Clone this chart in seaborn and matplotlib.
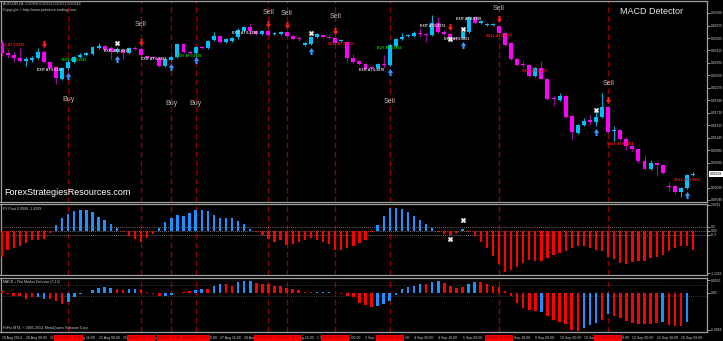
import numpy as np
import pandas as pd
import matplotlib
matplotlib.use("Agg")
import matplotlib.pyplot as plt
from matplotlib.path import Path
import seaborn as sns

# ------------------------------------------------------------------ data
opens = [0.9328, 0.9306, 0.9301, 0.9294, 0.9288, 0.9290, 0.9294, 0.9308, 0.9285, 0.9274,
         0.9247, 0.9272, 0.9285, 0.9297, 0.9301, 0.9304, 0.9317, 0.9322, 0.9317, 0.9308,
         0.9313, 0.9306, 0.9317, 0.9315, 0.9299, 0.9297, 0.9294, 0.9276, 0.9290, 0.9297,
         0.9326, 0.9308, 0.9306, 0.9319, 0.9317, 0.9335, 0.9344, 0.9331, 0.9333, 0.9342,
         0.9355, 0.9364, 0.9355, 0.9349, 0.9355, 0.9349, 0.9349, 0.9353, 0.9344, 0.9340,
         0.9324, 0.9326, 0.9342, 0.9346, 0.9342, 0.9340, 0.9333, 0.9331, 0.9294, 0.9288,
         0.9281, 0.9274, 0.9272, 0.9281, 0.9279, 0.9322, 0.9337, 0.9344, 0.9344, 0.9351,
         0.9349, 0.9346, 0.9373, 0.9353, 0.9349, 0.9340, 0.9340, 0.9353, 0.9387, 0.9373,
         0.9369, 0.9369, 0.9367, 0.9351, 0.9328, 0.9292, 0.9281, 0.9279, 0.9254, 0.9272,
         0.9247, 0.9204, 0.9200, 0.9209, 0.9164, 0.9125, 0.9143, 0.9155, 0.9150, 0.9161,
         0.9184, 0.9130, 0.9132, 0.9112, 0.9096, 0.9089, 0.9062, 0.9044, 0.9057, 0.9053,
         0.9006, 0.9006, 0.8992, 0.9001, 0.9030]
highs = [0.9335, 0.9313, 0.9308, 0.9317, 0.9297, 0.9299, 0.9317, 0.9313, 0.9288, 0.9276,
         0.9274, 0.9290, 0.9299, 0.9306, 0.9308, 0.9322, 0.9328, 0.9324, 0.9322, 0.9319,
         0.9317, 0.9319, 0.9322, 0.9317, 0.9301, 0.9299, 0.9297, 0.9294, 0.9299, 0.9328,
         0.9328, 0.9310, 0.9322, 0.9322, 0.9335, 0.9353, 0.9346, 0.9340, 0.9342, 0.9362,
         0.9367, 0.9373, 0.9358, 0.9358, 0.9358, 0.9353, 0.9355, 0.9355, 0.9346, 0.9344,
         0.9331, 0.9344, 0.9351, 0.9349, 0.9346, 0.9342, 0.9337, 0.9333, 0.9304, 0.9290,
         0.9283, 0.9276, 0.9283, 0.9301, 0.9326, 0.9340, 0.9351, 0.9349, 0.9355, 0.9362,
         0.9351, 0.9392, 0.9387, 0.9358, 0.9351, 0.9342, 0.9355, 0.9389, 0.9389, 0.9380,
         0.9373, 0.9373, 0.9369, 0.9353, 0.9331, 0.9294, 0.9288, 0.9281, 0.9274, 0.9288,
         0.9249, 0.9209, 0.9215, 0.9211, 0.9166, 0.9146, 0.9159, 0.9166, 0.9177, 0.9215,
         0.9186, 0.9141, 0.9134, 0.9116, 0.9098, 0.9091, 0.9075, 0.9065, 0.9060, 0.9055,
         0.9015, 0.9008, 0.9003, 0.9033, 0.9037]
lows = [0.9299, 0.9294, 0.9285, 0.9285, 0.9276, 0.9285, 0.9292, 0.9283, 0.9270, 0.9236,
        0.9245, 0.9267, 0.9283, 0.9294, 0.9299, 0.9301, 0.9315, 0.9310, 0.9292, 0.9306,
        0.9292, 0.9304, 0.9313, 0.9299, 0.9292, 0.9292, 0.9274, 0.9274, 0.9288, 0.9294,
        0.9306, 0.9304, 0.9304, 0.9315, 0.9315, 0.9333, 0.9328, 0.9328, 0.9331, 0.9337,
        0.9353, 0.9346, 0.9346, 0.9346, 0.9344, 0.9346, 0.9346, 0.9342, 0.9335, 0.9333,
        0.9322, 0.9324, 0.9340, 0.9340, 0.9337, 0.9326, 0.9331, 0.9285, 0.9283, 0.9279,
        0.9267, 0.9270, 0.9270, 0.9272, 0.9276, 0.9319, 0.9335, 0.9342, 0.9342, 0.9342,
        0.9331, 0.9344, 0.9351, 0.9346, 0.9337, 0.9335, 0.9337, 0.9351, 0.9371, 0.9371,
        0.9367, 0.9367, 0.9349, 0.9322, 0.9290, 0.9276, 0.9274, 0.9252, 0.9252, 0.9245,
        0.9200, 0.9186, 0.9197, 0.9159, 0.9109, 0.9123, 0.9141, 0.9143, 0.9141, 0.9159,
        0.9125, 0.9107, 0.9109, 0.9087, 0.9085, 0.9057, 0.9042, 0.9042, 0.9028, 0.9033,
        0.8994, 0.8988, 0.8981, 0.8999, 0.9027]
closes = [0.9306, 0.9301, 0.9294, 0.9288, 0.9292, 0.9294, 0.9308, 0.9285, 0.9272, 0.9249,
          0.9272, 0.9285, 0.9297, 0.9301, 0.9306, 0.9319, 0.9322, 0.9313, 0.9308, 0.9315,
          0.9306, 0.9317, 0.9315, 0.9301, 0.9294, 0.9294, 0.9276, 0.9292, 0.9297, 0.9326,
          0.9308, 0.9306, 0.9319, 0.9317, 0.9333, 0.9344, 0.9331, 0.9337, 0.9340, 0.9358,
          0.9364, 0.9355, 0.9349, 0.9355, 0.9346, 0.9351, 0.9353, 0.9344, 0.9337, 0.9337,
          0.9328, 0.9342, 0.9349, 0.9342, 0.9340, 0.9328, 0.9335, 0.9294, 0.9285, 0.9281,
          0.9270, 0.9272, 0.9281, 0.9279, 0.9324, 0.9337, 0.9342, 0.9346, 0.9351, 0.9349,
          0.9346, 0.9373, 0.9353, 0.9349, 0.9340, 0.9337, 0.9353, 0.9387, 0.9373, 0.9378,
          0.9371, 0.9371, 0.9351, 0.9324, 0.9292, 0.9279, 0.9279, 0.9254, 0.9272, 0.9247,
          0.9202, 0.9202, 0.9209, 0.9161, 0.9127, 0.9143, 0.9152, 0.9150, 0.9161, 0.9184,
          0.9127, 0.9132, 0.9112, 0.9096, 0.9089, 0.9062, 0.9044, 0.9057, 0.9053, 0.9035,
          0.9003, 0.8992, 0.9001, 0.9030, 0.9032]

fx_pivot = [-2.03, -1.5, -1.35, -1.2, -0.98, -0.75, -0.68, -0.6, -0.15,
            0.45, 0.98, 1.28, 1.5, 1.58, 1.58, 1.43, 1.05, 0.83, 0.53, 0.23,
            -0.12, -0.38, -0.6, -0.83, -0.53, -0.23,
            0.23, 0.68, 0.98, 1.2, 1.13, 1.35, 1.58, 1.58, 1.5, 1.2, 0.98, 0.98, 0.98, 0.75, 0.53, 0.15,
            -0.12, -0.3, -0.6, -0.83, -0.75, -1.13, -1.05, -0.9, -0.68, -0.53,
            -0.75, -0.9, -1.05, -1.5, -1.5, -1.35, -1.2, -0.98, -0.68, -0.1,
            0.45, 1.13, 1.73, 1.73, 1.65, 1.43, 1.13, 0.83, 0.53, 0.23,
            -0.08, -0.23, -0.3, -0.15,
            0.1,
            -0.1, -0.38, -0.83, -1.35, -1.95, -2.55, -3.15, -3.0, -2.78, -2.48,
            -2.25, -2.33, -2.33, -2.1, -1.88, -1.73, -1.58, -1.35, -1.2, -1.2,
            -1.35, -1.5, -1.58, -2.03, -2.18, -2.48, -2.55, -2.4, -2.33, -2.33,
            -2.1, -2.03, -1.88, -1.58, -1.35, -1.2, -1.2, -1.5]

macd = [0.0003, -0.0003, -0.0007, -0.0007, -0.0011, -0.0009, -0.0009, -0.0011, -0.0011, -0.0015,
        -0.0021, -0.0017, -0.0008, -0.00035, -0.0001, 0.0005, 0.0008, 0.0010, 0.0009, 0.0007,
        0.0005, 0.0006, 0.0007, 0.0006, 0.0001, -0.0003, -0.0006, -0.0007, -0.0005, -0.0001,
        0.0001, 0.0003, 0.0004, 0.0006, 0.0006, 0.0013, 0.0015, 0.0015, 0.0013, 0.0019,
        0.0021, 0.0021, 0.0018, 0.0015, 0.0015, 0.0013, 0.0012, 0.0009, 0.0006, 0.0005,
        0.0002, 0.0001, 0.0001, 0.0001, 0.00006, -0.00006, -0.0002, -0.0006, -0.0009, -0.00195,
        -0.00236, -0.00265, -0.0025, -0.0022, -0.0015, -0.0004, 0.0006, 0.0011, 0.0013, 0.00165,
        0.0015, 0.0019, 0.0022, 0.0018, 0.0013, 0.0009, 0.0011, 0.0015, 0.0019, 0.0019,
        0.0015, 0.0013, 0.0010, 0.0003, -0.0007, -0.0019, -0.0028, -0.00325, -0.0034, -0.00355,
        -0.0044, -0.0050, -0.0055, -0.0058, -0.0070, -0.0071, -0.0066, -0.0060, -0.0056, -0.0050,
        -0.0040, -0.00425, -0.0047, -0.0053, -0.0056, -0.0058, -0.0058, -0.0058, -0.0056, -0.0055,
        -0.0060, -0.0062, -0.0062, -0.0054]
macd_dir = list("rrrrrrbbrr" "rbbbbbbbbr" "rbbrrrrbbb" "rrbbrbbrrb" "bbrrrrrrrr"
                "rrbbbrrrrr" "rrbbbbbbbb" "rbbrrrrbbr" "rrrrrrrrrb" "rrrrrrbbbr"
                "brrrrrrrrb" "rrrb")

price_ticks = [0.93960, 0.93675, 0.93395, 0.93115, 0.92835, 0.92550, 0.92270, 0.91990,
               0.91710, 0.91425, 0.91145, 0.90865, 0.90585, 0.90020, 0.89740]
last_price_label = "0.90319"

signal_idx = [11, 23, 28, 32, 44, 47, 55, 64, 82, 100]
signal_text = ["Buy", "Sell", "Buy", "Buy", "Sell", "Sell", "Sell", "Sell", "Sell", "Sell"]
signal_price = [0.9200, 0.9371, 0.9191, 0.9191, 0.9396, 0.9394, 0.9389, 0.9197, 0.9405, 0.9236]
signal_stamp = ["2014.08.21 12:00", "2014.08.25 12:00", "2014.08.26 08:00", "2014.08.27 00:00",
                "2014.08.29 00:00", "2014.08.29 12:00", "2014.09.01 20:00", "2014.09.03 08:00",
                "2014.09.08 08:00", "2014.09.11 08:00"]

sell_arrow_idx = [7, 23, 44, 47, 55, 74, 82, 100]
buy_arrow_idx = [11, 19, 28, 32, 51, 64, 76, 98, 113]
exit_idx = [19, 51, 74, 76, 98]
exit_price = [0.9328, 0.9351, 0.9337, 0.9360, 0.9177]
pivot_exit_idx = [74, 76]
pivot_exit_val = [-0.64, 0.82]

trade_idx = [1.5, 8, 12, 19, 25, 31, 40, 56, 64, 61, 71, 75, 77, 82, 88, 102, 113]
trade_price = [0.9324, 0.9267, 0.9290, 0.9310, 0.9292, 0.9299, 0.9351, 0.9326, 0.9317,
               0.9267, 0.9367, 0.9337, 0.9382, 0.9344, 0.9265, 0.9101, 0.9018]
trade_text = ["SELL AT 0.9326", "EXIT AT 0.9329", "BUY AT 0.9287", "EXIT AT 0.9317",
              "EXIT AT 0.9302", "BUY AT 0.9305", "EXIT AT 0.9350", "SELL AT 0.9322",
              "BUY AT 0.9323", "EXIT AT 0.9270", "EXIT AT 0.9373", "EXIT AT 0.9351",
              "EXIT AT 0.9388", "SELL AT 0.9355", "SELL AT 0.9287", "SELL AT 0.9164",
              "SELL AT 0.9032"]

time_idx = list(range(0, 113, 4))
time_labels = ["19 Aug 2014", "20 Aug 08:00", "21 Aug 00:00", "21 Aug 16:00", "22 Aug 08:00",
               "25 Aug 00:00", "25 Aug 16:00", "26 Aug 08:00", "27 Aug 00:00", "27 Aug 16:00",
               "28 Aug 08:00", "29 Aug 00:00", "29 Aug 16:00", "1 Sep 08:00", "2 Sep 00:00",
               "2 Sep 16:00", "3 Sep 08:00", "4 Sep 00:00", "4 Sep 16:00", "5 Sep 08:00",
               "8 Sep 00:00", "8 Sep 16:00", "9 Sep 08:00", "10 Sep 00:00", "10 Sep 16:00",
               "11 Sep 08:00", "12 Sep 00:00", "12 Sep 16:00", "15 Sep 08:00"]

# ------------------------------------------------------------------ style
sns.set_theme(style="dark", rc={"axes.facecolor": "black", "figure.facecolor": "black",
                                "axes.edgecolor": "#a0a0a0", "axes.grid": False})
plt.rcParams["font.family"] = ["Liberation Sans", "DejaVu Sans"]

BULL, BEAR = "#00bfff", "#ff00ff"
BULL_W, BEAR_W = "#00a8d8", "#9a0a9a"
HB, HR = "#1e90ff", "#ff0000"
VL = "#8b0000"
SPINE = "#a0a0a0"
TXT = "#d0d0d0"

W, H = 723, 341
fig = plt.figure(figsize=(W / 100, H / 100), dpi=100, facecolor="black")


def ax_at(x0, y0, x1, y1):
    return fig.add_axes([x0 / W, 1 - y1 / H, (x1 - x0) / W, (y1 - y0) / H])


ax = ax_at(0.5, 1, 707, 202)
ax2 = ax_at(0.5, 204, 707, 275)
ax3 = ax_at(0.5, 278, 707, 332)

n = len(closes)
idx = np.arange(n)
o = np.array(opens); c = np.array(closes); hi = np.array(highs); lo = np.array(lows)
bull = c >= o

XL = (-0.17, 116.3)
for a in (ax, ax2, ax3):
    a.set_facecolor("black")
    for s in a.spines.values():
        s.set_color(SPINE)
        s.set_linewidth(0.9)
    for i in signal_idx:
        a.axvline(i, color=VL, lw=1.0, ls=(0, (4, 2.5)), zorder=1)

# ---------------- candles
ax.vlines(idx, lo, hi, colors=np.where(bull, BULL_W, BEAR_W), lw=0.8, zorder=2)
body_lo = np.minimum(o, c)
body_h = np.maximum(np.abs(c - o), 0.00018)
ax.bar(idx, body_h, bottom=body_lo, width=0.65, color=np.where(bull, BULL, BEAR),
       linewidth=0, zorder=3)

down_arrow = Path([(-0.3, 1), (0.3, 1), (0.3, 0.1), (0.75, 0.1), (0, -1), (-0.75, 0.1),
                   (-0.3, 0.1), (-0.3, 1)], closed=True)
up_arrow = Path([(-0.3, -1), (0.3, -1), (0.3, -0.1), (0.75, -0.1), (0, 1), (-0.75, -0.1),
                 (-0.3, -0.1), (-0.3, -1)], closed=True)
ax.scatter(sell_arrow_idx, hi[sell_arrow_idx] + 0.0014, marker=down_arrow, s=26,
           color="#ff1a1a", linewidths=0, zorder=5)
ax.scatter(buy_arrow_idx, lo[buy_arrow_idx] - 0.0014, marker=up_arrow, s=26,
           color="#3399ff", linewidths=0, zorder=5)
ax.scatter(exit_idx, exit_price, marker="X", s=14, color="white", edgecolors="#909090",
           linewidths=0.3, zorder=5)
ax2.scatter(pivot_exit_idx, pivot_exit_val, marker="X", s=14, color="white",
            edgecolors="#909090", linewidths=0.3, zorder=5)

for i, p, t in zip(signal_idx, signal_price, signal_text):
    ax.text(i, p, t, color="#b8b8b8", fontsize=5, ha="center", va="center", zorder=6)

for i, p, t in zip(trade_idx, trade_price, trade_text):
    col = "#e0e0e0" if t.startswith("EXIT") else ("#00d000" if t.startswith("BUY") else "#ff1010")
    ax.text(i, p, t, color=col, fontsize=2.5, fontweight="bold", ha="center", va="center",
            zorder=6, clip_on=True)

ax.set_xlim(*XL)
ax.set_ylim(0.89694, 0.94230)
ax.set_xticks([])
ax.yaxis.tick_right()
ax.set_yticks(price_ticks)
ax.set_yticklabels([f"{p:.5f}" for p in price_ticks])
ax.tick_params(axis="y", colors=TXT, labelsize=2.4, length=2, width=0.5, pad=1)
ax.text(1.004, c[-1], last_price_label, transform=ax.get_yaxis_transform(), fontsize=2.4,
        color="black", ha="left", va="center",
        bbox=dict(boxstyle="square,pad=0.25", fc="white", ec="none"), clip_on=False)

# ---------------- FX pivot histogram (seaborn)
piv_df = pd.DataFrame({"idx": idx, "val": fx_pivot,
                       "dir": np.where(np.array(fx_pivot) >= 0, "up", "down")})
sns.barplot(data=piv_df, x="idx", y="val", hue="dir", palette={"up": HB, "down": HR},
            dodge=False, native_scale=True, width=0.38, errorbar=None, legend=False,
            saturation=1, linewidth=0, ax=ax2, zorder=3)
for lvl in (0.3, 0.0, -0.3):
    ax2.axhline(lvl, color="#8c8c8c", lw=0.6, ls=(0, (1, 1.5)), zorder=2)
ax2.set_xlim(*XL)
ax2.set_ylim(-3.4, 2.05)
ax2.set_xticks([])
ax2.set_xlabel(""); ax2.set_ylabel("")
ax2.yaxis.tick_right()
ax2.set_yticks([2.0, 0.3, 0.0, -0.3, -3.25])
ax2.set_yticklabels(["2.0011", "0.3", "0.00", "-0.3", "-1.1325"])
ax2.tick_params(axis="y", colors=TXT, labelsize=2.4, length=2, width=0.5, pad=1)
ax2.text(0.004, 0.96, "FX Pivot 0.0000 -1.4209", transform=ax2.transAxes, fontsize=2.5,
         color=TXT, ha="left", va="top")

# ---------------- MACD histogram (seaborn)
macd_df = pd.DataFrame({"idx": np.arange(len(macd)), "val": macd, "dir": macd_dir})
sns.barplot(data=macd_df, x="idx", y="val", hue="dir", palette={"b": HB, "r": HR},
            dodge=False, native_scale=True, width=0.42, errorbar=None, legend=False,
            saturation=1, linewidth=0, ax=ax3, zorder=3)
for lvl in (0.0014, -0.00072):
    ax3.axhline(lvl, color="#4a4a4a", lw=0.6, ls=(0, (1, 1.5)), zorder=2)
ax3.set_xlim(*XL)
ax3.set_ylim(-0.0073, 0.0027)
ax3.set_xlabel(""); ax3.set_ylabel("")
ax3.yaxis.tick_right()
ax3.set_yticks([0.0023, 0.0, -0.0069])
ax3.set_yticklabels(["0.0023", "0.00", "-0.0068"])
ax3.tick_params(axis="y", colors=TXT, labelsize=2.4, length=2, width=0.5, pad=1)
ax3.set_xticks(time_idx)
ax3.set_xticklabels(time_labels, ha="left")
ax3.tick_params(axis="x", colors=TXT, labelsize=2.5, length=2, width=0.5, pad=1.2)
ax3.text(0.004, 0.97, "MACD + Flat Market Detector (5,13)", transform=ax3.transAxes,
         fontsize=2.5, color=TXT, ha="left", va="top")
ax3.text(0.003, 0.04, "FxPro MT4, \u00a9 2001-2014, MetaQuotes Software Corp.",
         transform=ax3.transAxes, fontsize=2.5, color=TXT, ha="left", va="bottom")

# red time stamps of the signal lines on the time scale
for i, s in zip(signal_idx, signal_stamp):
    ax3.text(i, -0.102, s, transform=ax3.get_xaxis_transform(), fontsize=2.4,
             color="#7a0000", ha="center", va="center", clip_on=False, zorder=10,
             bbox=dict(boxstyle="square,pad=0.3", fc="#ff0000", ec="none"))

# ---------------- header texts
fig.text(3 / W, 1 - 4 / H, "AUDUSD,H4  0.90302 0.90372 0.90271 0.90319", fontsize=2.6,
         color=TXT, ha="left", va="center")
fig.text(3 / W, 1 - 9.5 / H, "Copyright \u00a9 http://www.pointzero-trading.com", fontsize=2.6,
         color=TXT, ha="left", va="center")
fig.text(620 / W, 1 - 11 / H, "MACD Detector", fontsize=6.5, color="#e8e8e8",
         ha="left", va="center")
fig.text(4 / W, 1 - 192 / H, "ForexStrategiesResources.com", fontsize=6.5, color="white",
         ha="left", va="center")

fig.savefig("out.png", dpi=100, facecolor="black")
